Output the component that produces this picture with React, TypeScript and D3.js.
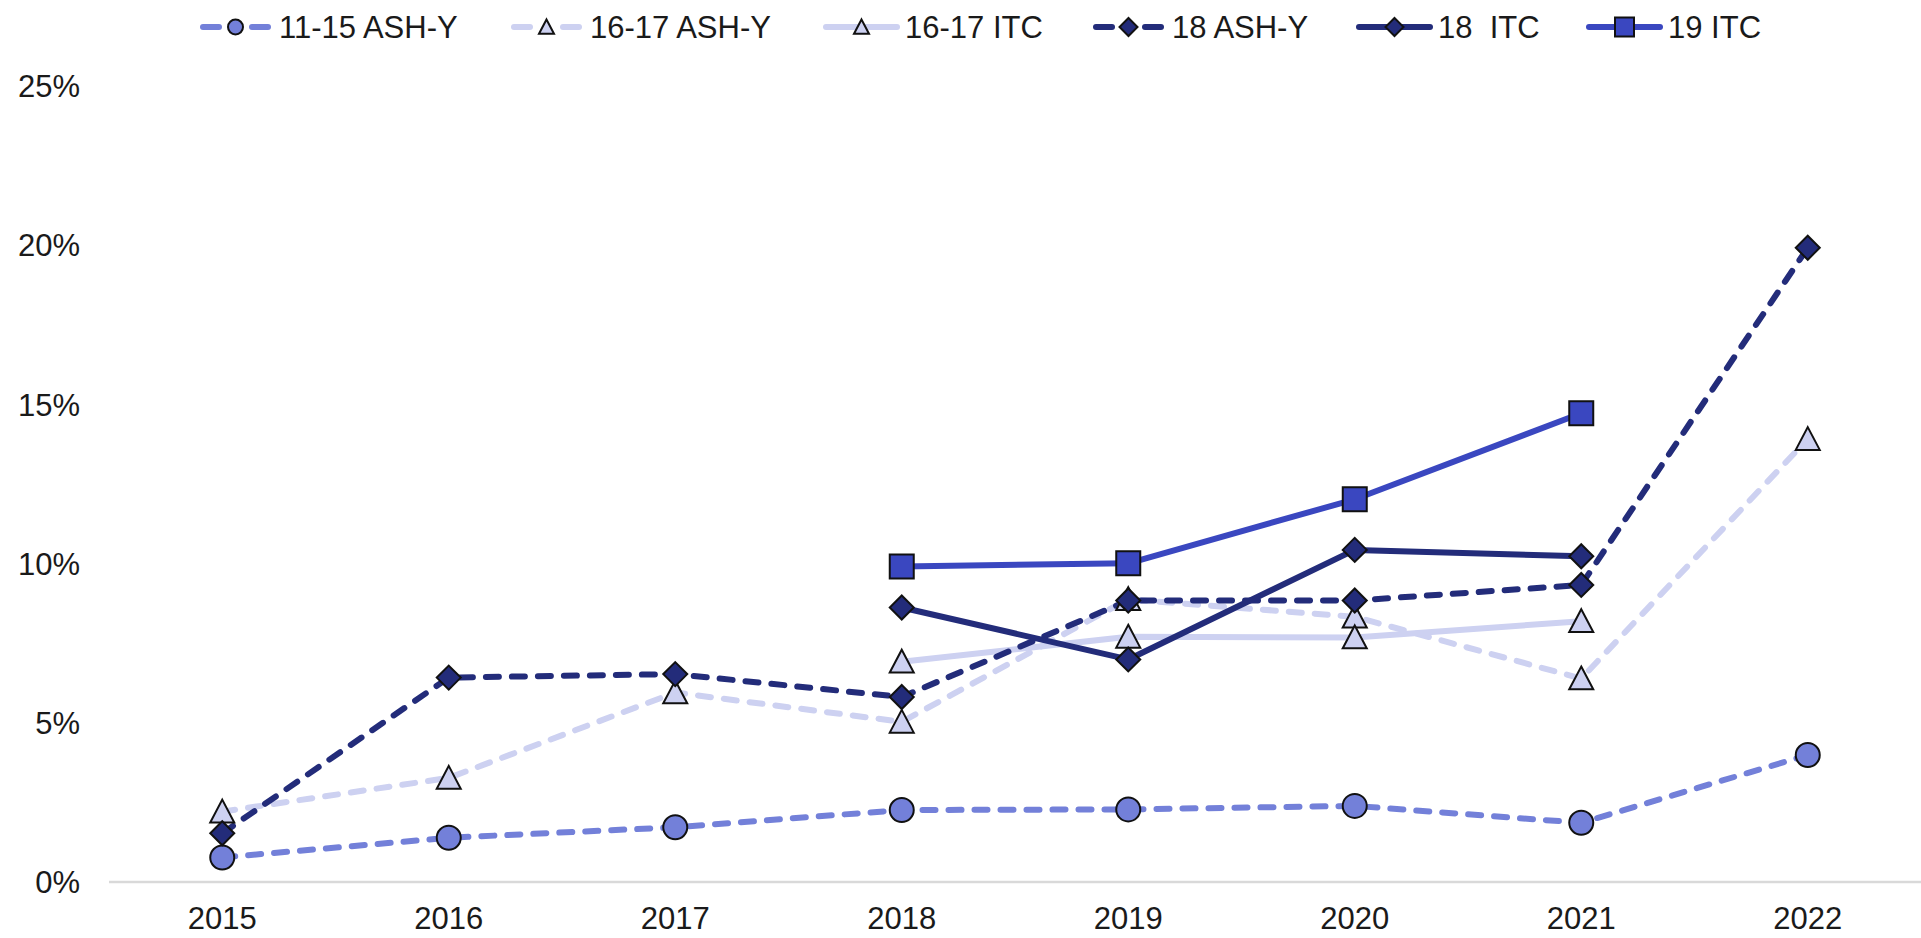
import React from "react";
import * as d3 from "d3";

const years = ["2015", "2016", "2017", "2018", "2019", "2020", "2021", "2022"];
const yTicks = [0, 5, 10, 15, 20, 25];

const ash1115 = [0.77, 1.39, 1.72, 2.26, 2.28, 2.39, 1.86, 3.99];
const ash1617 = [2.21, 3.27, 5.95, 5.03, 8.88, 8.33, 6.39, 13.91];
const itc1617 = [null, null, null, 6.92, 7.7, 7.68, 8.19, null];
const ash18 = [1.53, 6.42, 6.53, 5.81, 8.84, 8.84, 9.33, 19.92];
const itc18 = [null, null, null, 8.62, 6.99, 10.43, 10.23, null];
const itc19 = [null, null, null, 9.91, 10.01, 12.02, 14.72, null];

type Shape = "circle" | "triangle" | "diamond" | "square";
interface Series {
  name: string;
  values: (number | null)[];
  color: string;
  fill: string;
  dashed: boolean;
  shape: Shape;
}

const series: Series[] = [
  { name: "11-15 ASH-Y", values: ash1115, color: "#7380D9", fill: "#7380D9", dashed: true, shape: "circle" },
  { name: "16-17 ASH-Y", values: ash1617, color: "#CDD1F1", fill: "#CDD1F1", dashed: true, shape: "triangle" },
  { name: "16-17 ITC", values: itc1617, color: "#CDD1F1", fill: "#CDD1F1", dashed: false, shape: "triangle" },
  { name: "18 ASH-Y", values: ash18, color: "#232C7A", fill: "#232C7A", dashed: true, shape: "diamond" },
  { name: "18  ITC", values: itc18, color: "#232C7A", fill: "#232C7A", dashed: false, shape: "diamond" },
  { name: "19 ITC", values: itc19, color: "#3A47C0", fill: "#3A47C0", dashed: false, shape: "square" },
];

const W = 1921;
const H = 938;
const FONT = "'Liberation Sans', Arial, sans-serif";

function markerPath(shape: Shape, s: number): string {
  const h = s / 2;
  switch (shape) {
    case "circle":
      return `M${-h},0A${h},${h} 0 1,0 ${h},0A${h},${h} 0 1,0 ${-h},0Z`;
    case "square":
      return `M${-h},${-h}H${h}V${h}H${-h}Z`;
    case "diamond":
      return `M0,${-h}L${h},0L0,${h}L${-h},0Z`;
    case "triangle":
      return `M0,${-h}L${h},${h * 0.9}L${-h},${h * 0.9}Z`;
  }
}

export default function App() {
  const x = d3.scaleBand<string>().domain(years).range([109, 1921]);
  const y = d3.scaleLinear().domain([0, 25]).range([882, 86]);
  const cx = (yr: string) => (x(yr) as number) + x.bandwidth() / 2;

  const line = d3
    .line<number | null>()
    .defined((d) => d !== null)
    .x((_, i) => cx(years[i]))
    .y((d) => y(d as number));

  // legend layout
  const legendTextW = [183, 187, 139, 138, 102, 93];
  const legendLineW = 71;
  let lx = 200;
  const legendItems = series.map((s, i) => {
    const item = { s, x: lx };
    lx += legendLineW + 8 + legendTextW[i] + 49;
    return item;
  });
  const legendY = 27;

  const markerSize: Record<Shape, number> = { circle: 24, square: 24, diamond: 24, triangle: 24 };
  const legendMarkerSize: Record<Shape, number> = { circle: 15, square: 19, diamond: 18, triangle: 15 };

  return (
    <svg width={W} height={H} style={{ position: "absolute", left: 0, top: 0, background: "#fff" }} fontFamily={FONT}>
      <rect x={0} y={0} width={W} height={H} fill="#fff" />
      {/* axis line */}
      <line x1={109} x2={1921} y1={y(0)} y2={y(0)} stroke="#D9D9D9" strokeWidth={2.5} />
      {/* y tick labels */}
      {yTicks.map((t) => (
        <text key={t} x={80} y={y(t)} dy="0.36em" textAnchor="end" fontSize={31} fill="#1a1a1a">
          {`${t}%`}
        </text>
      ))}
      {/* x tick labels */}
      {years.map((yr) => (
        <text key={yr} x={cx(yr)} y={929} textAnchor="middle" fontSize={31} fill="#1a1a1a">
          {yr}
        </text>
      ))}
      {/* lines */}
      {series.map((s) => (
        <path
          key={s.name + "-l"}
          d={line(s.values) || ""}
          fill="none"
          stroke={s.color}
          strokeWidth={s.dashed ? 6 : 6}
          strokeDasharray={s.dashed ? "13 13" : undefined}
          strokeLinecap={s.dashed ? "round" : "butt"}
          strokeLinejoin="round"
        />
      ))}
      {/* markers */}
      {series.map((s) =>
        s.values.map((v, i) =>
          v === null ? null : (
            <path
              key={s.name + i}
              d={markerPath(s.shape, markerSize[s.shape])}
              transform={`translate(${cx(years[i])},${y(v)})`}
              fill={s.fill}
              stroke="#111"
              strokeWidth={2}
            />
          )
        )
      )}
      {/* legend */}
      {legendItems.map(({ s, x: ix }) => (
        <g key={s.name + "-leg"}>
          {s.dashed ? (
            <>
              <line x1={ix + 3} x2={ix + 19} y1={legendY} y2={legendY} stroke={s.color} strokeWidth={6} strokeLinecap="round" />
              <line x1={ix + legendLineW - 19} x2={ix + legendLineW - 3} y1={legendY} y2={legendY} stroke={s.color} strokeWidth={6} strokeLinecap="round" />
            </>
          ) : (
            <line x1={ix} x2={ix + legendLineW} y1={legendY} y2={legendY} stroke={s.color} strokeWidth={6} strokeLinecap="round" />
          )}
          <path
            d={markerPath(s.shape, legendMarkerSize[s.shape])}
            transform={`translate(${ix + legendLineW / 2},${legendY})`}
            fill={s.fill}
            stroke="#111"
            strokeWidth={2}
          />
          <text x={ix + legendLineW + 8} y={legendY} dy="0.36em" fontSize={31} fill="#1a1a1a" style={{ whiteSpace: "pre" }}>
            {s.name}
          </text>
        </g>
      ))}
    </svg>
  );
}
